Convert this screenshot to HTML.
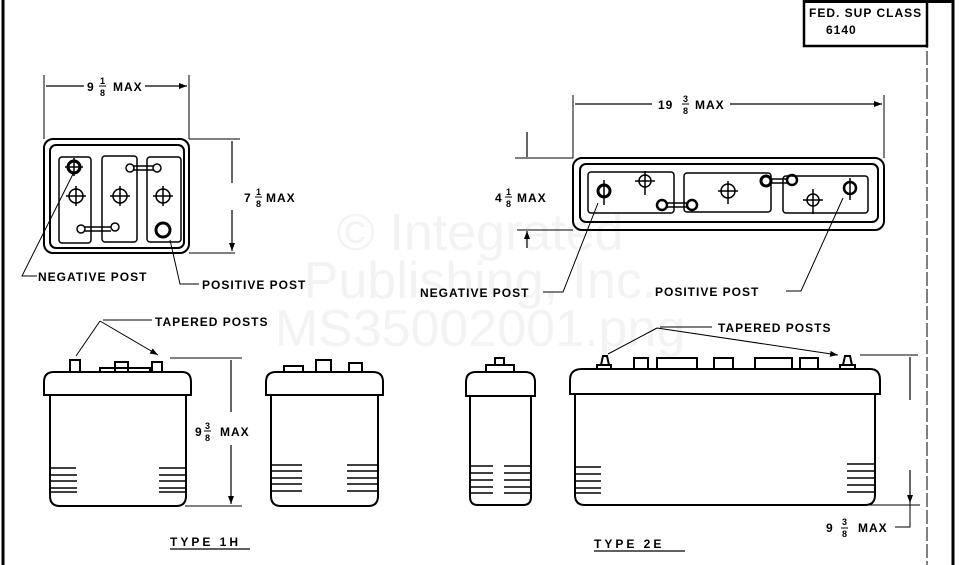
<!DOCTYPE html>
<html><head><meta charset="utf-8"><style>
html,body{margin:0;padding:0;background:#fff;}
svg{display:block;}
text{font-family:"Liberation Sans",sans-serif;font-weight:bold;fill:#000;}
.t{font-size:12px;letter-spacing:1px;}
.f{font-size:9px;}
.w{font-family:"Liberation Sans",sans-serif;font-weight:normal;font-size:52px;fill:#f3f3f3;}
</style></head><body>
<svg width="973" height="565" viewBox="0 0 973 565" xmlns="http://www.w3.org/2000/svg">
<defs>
<marker id="a" markerWidth="8" markerHeight="6" refX="8" refY="3" orient="auto" markerUnits="userSpaceOnUse"><path d="M0,0 L8,3 L0,6 z" fill="#000"/></marker>
</defs>
<text class="w" x="480" y="250" text-anchor="middle">© Integrated</text>
<text class="w" x="480" y="298" text-anchor="middle">Publishing, Inc.</text>
<text class="w" x="480" y="346" text-anchor="middle">MS35002001.png</text>

<g fill="none" stroke="#000" stroke-width="1.5">
<line x1="3" y1="0" x2="3" y2="565" stroke-width="3"/>
<line x1="953" y1="0" x2="953" y2="565" stroke-width="3"/>
<line x1="927" y1="0" x2="927" y2="565" stroke-width="1" stroke-dasharray="14,3"/>
<rect x="804" y="0" width="123" height="46" stroke-width="2.5"/>
<line x1="804" y1="1.5" x2="953" y2="1.5" stroke-width="3"/>

<rect x="44" y="139" width="145" height="114" rx="9" stroke-width="2"/>
<rect x="50" y="145" width="134" height="103" rx="6" stroke-width="2"/>
<rect x="59" y="157" width="32" height="86" rx="3"/>
<rect x="102" y="156" width="35" height="86" rx="3"/>
<rect x="147" y="157" width="34" height="85" rx="3"/>
<g stroke-width="1.5">
<circle cx="74" cy="167" r="6" stroke-width="3"/><circle cx="76" cy="196" r="7"/>
<circle cx="81" cy="229" r="4"/><circle cx="115" cy="227" r="4"/>
<circle cx="120" cy="196" r="7"/><circle cx="130" cy="168" r="4"/><circle cx="157" cy="168" r="4"/>
<circle cx="163" cy="196" r="7"/><circle cx="163" cy="230" r="7" stroke-width="3"/>
<path d="M85,227 H111 M85,231 H111 M134,166 H153 M134,170 H153"/>
<path d="M76,186 V206 M66,196 H86 M120,186 V206 M110,196 H130 M163,186 V206 M153,196 H173 M74,158 V176 M65,167 H83"/>
</g>
<path d="M44,75 V139 M189,75 V139" stroke-width="1"/>
<path d="M84,86 H46 M145,86 H187" stroke-width="1.2" marker-end="url(#a)"/>
<path d="M189,139 H240 M189,253 H235" stroke-width="1"/>
<path d="M232,183 V141 M232,210 V251" stroke-width="1.2" marker-end="url(#a)"/>
<path d="M37,276 H22 L73,174" stroke-width="1"/>
<path d="M199,284 H180 L170,240" stroke-width="1"/>

<rect x="573" y="158" width="311" height="72" rx="9" stroke-width="2"/>
<rect x="580" y="164" width="298" height="58" rx="6" stroke-width="2"/>
<rect x="588" y="172" width="86" height="41" rx="3"/>
<rect x="684" y="173" width="87" height="39" rx="3"/>
<rect x="783" y="176" width="85" height="37" rx="3"/>
<circle cx="604" cy="191" r="6" stroke-width="3"/><circle cx="645" cy="181" r="6"/>
<circle cx="662" cy="205" r="5" stroke-width="2.5"/><circle cx="692" cy="205" r="5" stroke-width="2.5"/>
<circle cx="728" cy="191" r="7"/><circle cx="766" cy="181" r="5" stroke-width="3"/><circle cx="792" cy="180" r="5" stroke-width="2.5"/>
<circle cx="813" cy="200" r="6"/><circle cx="850" cy="188" r="6" stroke-width="2.5"/>
<path d="M667,203 H687 M667,207 H687 M771,179 H787 M771,183 H787"/>
<path d="M604,180 V205 M645,171 V195 M635,181 H655 M728,181 V204 M718,191 H738 M813,189 V214 M803,200 H823 M850,178 V200"/>
<path d="M573,95 V158 M884,95 V158" stroke-width="1"/>
<path d="M652,104 H575 M730,104 H882" stroke-width="1.2" marker-end="url(#a)"/>
<path d="M515,158 H573 M517,230 H573" stroke-width="1"/>
<path d="M527,132 V157 M527,248 V231" stroke-width="1.2" marker-end="url(#a)"/>
<path d="M543,292 H563 L598,203" stroke-width="1"/>
<path d="M786,291 H801 L843,198" stroke-width="1"/>

<path d="M50,395 H44 V382 Q44,372 54,372 H182 Q191,372 191,382 V395 Z" stroke-width="2"/>
<path d="M50,395 V496 Q50,506 60,506 H176 Q186,506 186,496 V395" stroke-width="2"/>
<path d="M70,372 V360 H80 V372 M100,372 V368 H150 V372 M152,372 V362 H162 V372 M115,372 V362 H128 V372" stroke-width="2"/>
<path d="M50,468 H76 M50,475 H77 M50,481 H77 M50,488 H77 M50,492 H77" stroke-width="1.5"/>
<path d="M159,468 H186 M159,475 H186 M159,481 H186 M159,488 H186 M159,492 H186" stroke-width="1.5"/>
<path d="M271,395 H266 V382 Q266,372 276,372 H373 Q383,372 383,382 V395 Z" stroke-width="2"/>
<path d="M271,395 V496 Q271,506 281,506 H368 Q378,506 378,496 V395" stroke-width="2"/>
<path d="M284,372 V366 H303 V372 M316,372 V360 H331 V372 M349,372 V363 H362 V372" stroke-width="2"/>
<path d="M271,465 H302 M271,471 H302 M271,478 H302 M271,484 H302 M271,491 H302" stroke-width="1.5"/>
<path d="M347,465 H378 M347,471 H378 M347,478 H378 M347,484 H378 M347,491 H378" stroke-width="1.5"/>
<path d="M170,358 H242 M185,506 H242" stroke-width="1"/>
<path d="M231,412 V360 M231,445 V504" stroke-width="1.2" marker-end="url(#a)"/>
<path d="M152,320 H103" stroke-width="1"/>
<path d="M100,321 L76,356 M100,321 L158,355" stroke-width="1" marker-end="url(#a)"/>
<path d="M170,549 H250" stroke-width="1.2"/>

<path d="M470,396 H466 V382 Q466,372 476,372 H525 Q535,372 535,382 V396 Z" stroke-width="2"/>
<path d="M470,396 V497 Q470,505 478,505 H523 Q531,505 531,497 V396" stroke-width="2"/>
<path d="M486,372 V365 H514 V372 M495,365 V358 H504 V365" stroke-width="2"/>
<path d="M470,466 H493 M470,473 H493 M470,480 H493 M470,487 H493 M470,493 H493" stroke-width="1.5"/>
<path d="M504,466 H531 M504,473 H531 M504,480 H531 M504,487 H531 M504,493 H531" stroke-width="1.5"/>
<path d="M575,394 H570 V380 Q570,369 582,369 H870 Q880,369 880,380 V394 Z" stroke-width="2"/>
<path d="M575,394 V495 Q575,505 585,505 H865 Q875,505 875,495 V394" stroke-width="2"/>
<path d="M597,369 V365 H611 V369 M601,365 L603,356 H607 L609,365 M634,369 V358 H648 V369 M657,369 V358 H697 V369 M714,369 V358 H733 V369 M755,369 V358 H792 V369 M800,369 V358 H818 V369 M840,369 V365 H855 V369 M843,365 L845,356 H850 L852,365" stroke-width="2"/>
<path d="M575,467 H601 M575,474 H601 M575,481 H601 M575,488 H601 M575,493 H601" stroke-width="1.5"/>
<path d="M847,464 H875 M847,471 H875 M847,478 H875 M847,485 H875 M847,492 H875" stroke-width="1.5"/>
<path d="M860,355 H918 M870,505 H920" stroke-width="1"/>
<path d="M910,400 V357 M910,470 V503" stroke-width="1.2" marker-end="url(#a)"/>
<path d="M895,527 H910 V470" stroke-width="1"/>
<path d="M712,327 H660" stroke-width="1"/>
<path d="M657,328 L608,354 M657,328 L838,355" stroke-width="1" marker-end="url(#a)"/>
<path d="M594,551 H685" stroke-width="1.2"/>

<!-- fraction bars -->
<path d="M99,86 H106 M255,197 H262 M505,197 H512 M682,104 H689 M204,431 H211 M841,528 H848" stroke-width="1"/>
</g>

<text class="t" x="809" y="17">FED. SUP CLASS</text>
<text class="t" x="826" y="34">6140</text>

<text class="t" x="87" y="91">9</text><text class="f" x="100" y="84">1</text><text class="f" x="100" y="96">8</text><text class="t" x="113" y="91">MAX</text>
<text class="t" x="244" y="202">7</text><text class="f" x="256" y="195">1</text><text class="f" x="256" y="207">8</text><text class="t" x="266" y="202">MAX</text>
<text class="t" x="38" y="281">NEGATIVE POST</text>
<text class="t" x="202" y="289">POSITIVE POST</text>

<text class="t" x="658" y="109">19</text><text class="f" x="683" y="102">3</text><text class="f" x="683" y="114">8</text><text class="t" x="695" y="109">MAX</text>
<text class="t" x="495" y="202">4</text><text class="f" x="506" y="195">1</text><text class="f" x="506" y="207">8</text><text class="t" x="517" y="202">MAX</text>
<text class="t" x="420" y="297">NEGATIVE POST</text>
<text class="t" x="655" y="296">POSITIVE  POST</text>

<text class="t" x="155" y="326">TAPERED POSTS</text>
<text class="t" x="195" y="436">9</text><text class="f" x="205" y="429">3</text><text class="f" x="205" y="441">8</text><text class="t" x="220" y="436">MAX</text>
<text class="t" x="170" y="546" style="letter-spacing:3px">TYPE  1H</text>

<text class="t" x="718" y="332">TAPERED POSTS</text>
<text class="t" x="826" y="532">9</text><text class="f" x="842" y="525">3</text><text class="f" x="842" y="537">8</text><text class="t" x="858" y="532">MAX</text>
<text class="t" x="594" y="548" style="letter-spacing:3px">TYPE  2E</text>
</svg>
</body></html>
